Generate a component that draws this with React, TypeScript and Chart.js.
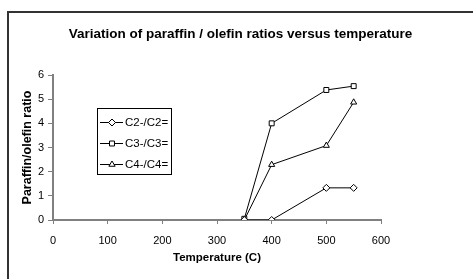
import React, { useEffect, useRef } from 'react';
import { Chart, registerables } from 'chart.js';

Chart.register(...registerables);

const chartTitle = 'Variation of paraffin / olefin ratios versus temperature';
const xAxisTitle = 'Temperature (C)';
const yAxisTitle = 'Paraffin/olefin ratio';

const temperatures = [350, 400, 500, 550];
const c2Ratios = [0, 0, 1.33, 1.33];
const c3Ratios = [0.05, 4.0, 5.38, 5.54];
const c4Ratios = [0, 2.29, 3.08, 4.87];
const seriesLabels = ['C2-/C2=', 'C3-/C3=', 'C4-/C4='];
const seriesMarkers = ['rectRot', 'rect', 'triangle'];
const seriesValues = [c2Ratios, c3Ratios, c4Ratios];

const xMin = 0;
const xMax = 600;
const xStep = 100;
const yMin = 0;
const yMax = 6;
const yStep = 1;

const FONT = "'Liberation Sans', Arial, sans-serif";

function drawMarker(ctx: CanvasRenderingContext2D, style: string, x: number, y: number, r: number) {
  ctx.beginPath();
  if (style === 'rectRot') {
    ctx.moveTo(x, y - r);
    ctx.lineTo(x + r, y);
    ctx.lineTo(x, y + r);
    ctx.lineTo(x - r, y);
    ctx.closePath();
  } else if (style === 'rect') {
    const s = r * Math.SQRT1_2;
    ctx.rect(x - s, y - s, 2 * s, 2 * s);
  } else {
    const h = r * 1.5;
    ctx.moveTo(x, y - r);
    ctx.lineTo(x + r * 0.9, y + h - r);
    ctx.lineTo(x - r * 0.9, y + h - r);
    ctx.closePath();
  }
  ctx.fillStyle = '#fff';
  ctx.fill();
  ctx.strokeStyle = '#000';
  ctx.lineWidth = 1;
  ctx.stroke();
}

const titlePlugin = {
  id: 'frameTitle',
  afterDraw(chart: any) {
    const ctx = chart.ctx as CanvasRenderingContext2D;
    ctx.save();
    ctx.font = `bold 13.5px ${FONT}`;
    ctx.fillStyle = '#000';
    ctx.textAlign = 'center';
    ctx.textBaseline = 'middle';
    ctx.fillText(chartTitle, 240.5, 34);
    ctx.restore();
  },
};

const boxLegendPlugin = {
  id: 'boxLegend',
  afterDatasetsDraw(chart: any) {
    const ctx = chart.ctx as CanvasRenderingContext2D;
    const area = chart.chartArea;
    const x0 = Math.round(area.left + 44);
    const y0 = Math.round(area.top + 33);
    const w = 74;
    const h = 66;
    ctx.save();
    ctx.fillStyle = '#fff';
    ctx.fillRect(x0, y0, w, h);
    ctx.strokeStyle = '#000';
    ctx.lineWidth = 1;
    ctx.strokeRect(x0 + 0.5, y0 + 0.5, w, h);
    chart.data.datasets.forEach((ds: any, i: number) => {
      const cy = y0 + 14.5 + i * 21;
      ctx.beginPath();
      ctx.moveTo(x0 + 3, cy);
      ctx.lineTo(x0 + 26, cy);
      ctx.strokeStyle = '#000';
      ctx.lineWidth = 1;
      ctx.stroke();
      drawMarker(ctx, ds.pointStyle, x0 + 15, cy, 3.5);
      ctx.fillStyle = '#000';
      ctx.font = `11.5px ${FONT}`;
      ctx.textAlign = 'left';
      ctx.textBaseline = 'middle';
      ctx.fillText(ds.label, x0 + 28, cy);
    });
    ctx.restore();
  },
};

export default function App() {
  const canvasRef = useRef<HTMLCanvasElement | null>(null);

  useEffect(() => {
    const canvas = canvasRef.current;
    if (!canvas) return;
    const chart = new Chart(canvas, {
      type: 'line',
      data: {
        datasets: seriesLabels.map((label, i) => ({
          label,
          data: temperatures.map((t, j) => ({ x: t, y: seriesValues[i][j] })),
          borderColor: '#000',
          borderWidth: 1,
          backgroundColor: '#fff',
          pointStyle: seriesMarkers[i] as any,
          pointRadius: 3.5,
          pointBackgroundColor: '#fff',
          pointBorderColor: '#000',
          pointBorderWidth: 1,
          fill: false,
          tension: 0,
        })),
      },
      options: {
        animation: false,
        responsive: false,
        devicePixelRatio: 1,
        layout: { padding: { top: 75, left: 8, right: 92, bottom: 0 } },
        plugins: {
          legend: { display: false },
          tooltip: { enabled: false },
          title: { display: false },
        },
        scales: {
          x: {
            type: 'linear',
            min: xMin,
            max: xMax,
            afterFit: (s: any) => {
              s.height = 59;
            },
            ticks: {
              stepSize: xStep,
              color: '#000',
              font: { family: FONT, size: 11 },
              padding: 10,
              maxRotation: 0,
            },
            grid: {
              drawOnChartArea: false,
              drawTicks: true,
              tickLength: 4,
              color: '#808080',
              lineWidth: 1,
            },
            border: { display: true, color: '#808080', width: 2 },
            title: {
              display: true,
              text: xAxisTitle,
              color: '#000',
              font: { family: FONT, size: 11.5, weight: 'bold' },
              padding: { top: 0, bottom: 14 },
            },
          },
          y: {
            type: 'linear',
            min: yMin,
            max: yMax,
            afterFit: (s: any) => {
              s.width = 45;
            },
            ticks: {
              stepSize: yStep,
              color: '#000',
              font: { family: FONT, size: 11 },
              padding: 4,
            },
            grid: {
              drawOnChartArea: false,
              drawTicks: true,
              tickLength: 5,
              color: '#808080',
              lineWidth: 1,
            },
            border: { display: true, color: '#808080', width: 2 },
            title: {
              display: true,
              text: yAxisTitle,
              color: '#000',
              font: { family: FONT, size: 12.5, weight: 'bold' },
              padding: { top: 12.5, bottom: 0 },
            },
          },
        },
      },
      plugins: [titlePlugin, boxLegendPlugin],
    });
    return () => chart.destroy();
  }, []);

  return (
    <div style={{ position: 'absolute', left: 0, top: 0, width: 473, height: 279, background: '#fff' }}>
      <div
        style={{
          position: 'absolute',
          left: 7,
          top: 11,
          width: 466,
          height: 268,
          borderLeft: '2px solid #333',
          borderTop: '2px solid #333',
          boxSizing: 'border-box',
        }}
      />
      <canvas
        ref={canvasRef}
        width={473}
        height={279}
        style={{ position: 'absolute', left: 0, top: 0, width: 473, height: 279 }}
      />
    </div>
  );
}
